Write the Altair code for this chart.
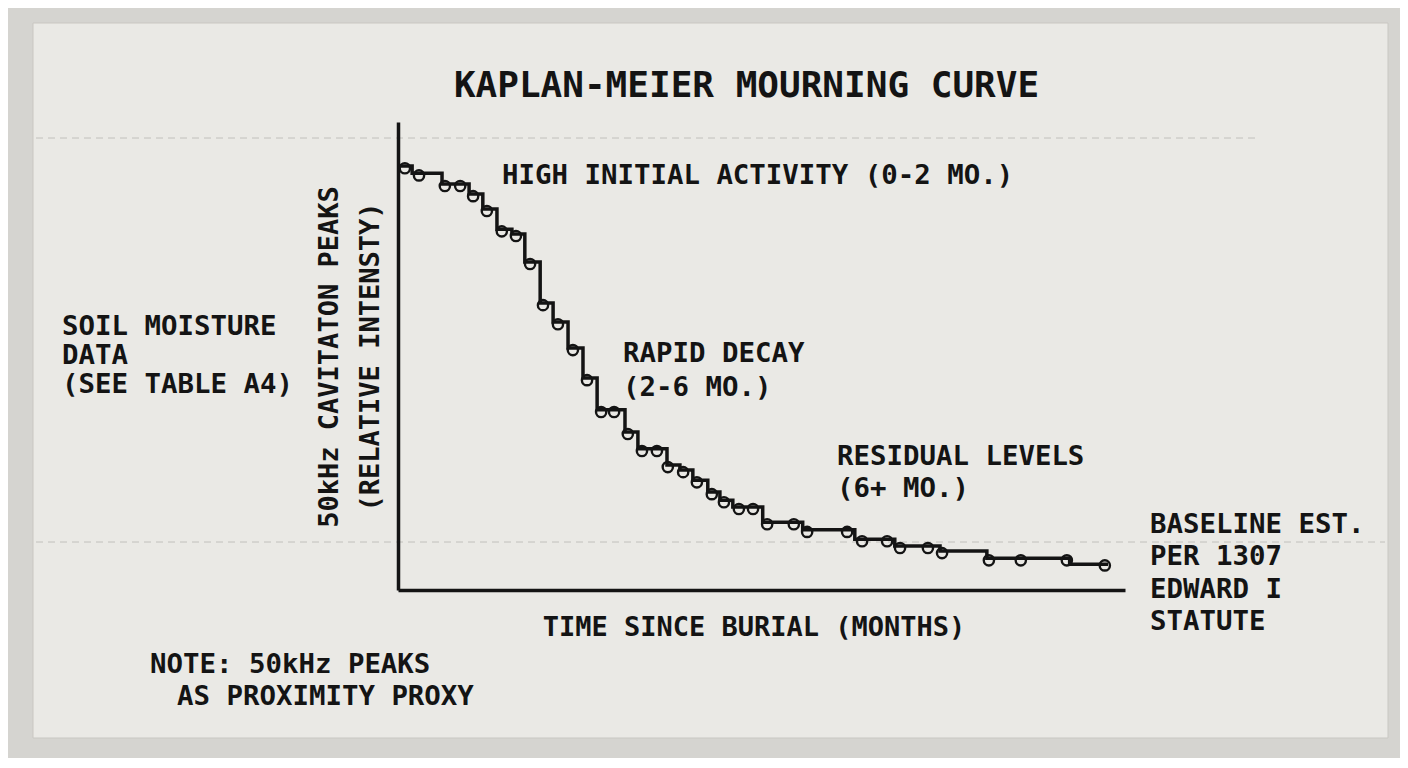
import altair as alt
import pandas as pd

# ---- data ----
step_months = [0, 0.35, 1.09, 1.76, 2.10, 2.45, 2.82, 3.14, 3.52, 3.84, 4.21, 4.58,
               4.93, 5.62, 5.94, 6.66, 6.98, 7.30, 7.67, 7.97, 8.29, 9.03, 10.02,
               11.31, 12.30, 13.42, 14.58, 16.63, 17.58]
step_intensity = [1.000, 0.983, 0.958, 0.934, 0.899, 0.851, 0.840, 0.774, 0.677,
                  0.632, 0.571, 0.500, 0.425, 0.373, 0.333, 0.295, 0.283, 0.259,
                  0.231, 0.212, 0.196, 0.160, 0.142, 0.120, 0.104, 0.092, 0.075,
                  0.061, 0.061]

censor_months = [0.17, 0.52, 1.16, 1.54, 1.86, 2.20, 2.57, 2.92, 3.27, 3.59, 3.96,
                 4.33, 4.68, 5.03, 5.35, 5.69, 6.04, 6.41, 6.68, 7.06, 7.40, 7.77,
                 8.07, 8.44, 8.79, 9.14, 9.80, 10.13, 11.12, 11.49, 12.11, 12.43,
                 13.12, 13.47, 14.63, 15.42, 16.56, 17.50]
censor_intensity = [0.995, 0.978, 0.953, 0.953, 0.929, 0.894, 0.846, 0.835, 0.769,
                    0.672, 0.627, 0.566, 0.495, 0.420, 0.420, 0.368, 0.328, 0.328,
                    0.290, 0.278, 0.254, 0.226, 0.207, 0.191, 0.191, 0.155, 0.155,
                    0.137, 0.137, 0.115, 0.115, 0.099, 0.099, 0.087, 0.070, 0.070,
                    0.070, 0.058]

title_text = "KAPLAN-MEIER MOURNING CURVE"
x_title = "TIME SINCE BURIAL (MONTHS)"
y_title = ["50kHz CAVITATON PEAKS", "(RELATIVE INTENSTY)"]
note_high = "HIGH INITIAL ACTIVITY (0-2 MO.)"
note_rapid = ["RAPID DECAY", "(2-6 MO.)"]
note_resid = ["RESIDUAL LEVELS", "(6+ MO.)"]
note_base = ["BASELINE EST.", "PER 1307", "EDWARD I", "STATUTE"]
note_soil = ["SOIL MOISTURE", "DATA", "(SEE TABLE A4)"]
note_foot1 = "NOTE: 50kHz PEAKS"
note_foot2 = "AS PROXIMITY PROXY"

FONT = "DejaVu Sans Mono"
INK = "#141414"
PAPER = "#eae9e5"
OUTER = "#d5d4d0"

steps = pd.DataFrame({"month": step_months, "intensity": step_intensity})
censors = pd.DataFrame({"month": censor_months, "intensity": censor_intensity})
one = pd.DataFrame({"k": [0]})

xs = alt.Scale(domain=[0, 18], nice=False, zero=False)
ys = alt.Scale(domain=[0, 1.104], nice=False)

x_axis = alt.Axis(title=x_title, ticks=False, labels=False, grid=False,
                  domainColor=INK, domainWidth=3.5, zindex=2,
                  titleFont=FONT, titleFontSize=27, titleFontWeight="bold",
                  titleColor=INK, titleX=355.5, titleY=45,
                  titleAlign="center", titleBaseline="alphabetic")
y_axis = alt.Axis(title=y_title, ticks=False, labels=False, grid=False,
                  domainColor=INK, domainWidth=3.5, zindex=2,
                  titleFont=FONT, titleFontSize=27, titleFontWeight="bold",
                  titleColor=INK, titleAngle=270, titleX=-61, titleY=234.5,
                  titleAlign="center", titleBaseline="alphabetic",
                  titleLineHeight=41)

paper = alt.Chart(one).mark_rect(color=PAPER, stroke="#c9c7c2", strokeWidth=1).encode(
    x=alt.value(-365), x2=alt.value(990), y=alt.value(-99), y2=alt.value(616))

fold1 = alt.Chart(one).mark_rule(color="#a9a7a2", strokeWidth=1, strokeDash=[7, 5],
                                 opacity=0.6).encode(
    x=alt.value(-362), x2=alt.value(862), y=alt.value(16))
fold2 = alt.Chart(one).mark_rule(color="#a9a7a2", strokeWidth=1, strokeDash=[7, 5],
                                 opacity=0.6).encode(
    x=alt.value(-362), x2=alt.value(987), y=alt.value(420))

line = alt.Chart(steps).mark_line(interpolate="step-after", color=INK,
                                  strokeWidth=3.5).encode(
    x=alt.X("month:Q", scale=xs, axis=x_axis),
    y=alt.Y("intensity:Q", scale=ys, axis=y_axis))

points = alt.Chart(censors).mark_point(shape="circle", filled=False, size=105,
                                       strokeWidth=2.4, color=INK, opacity=1).encode(
    x=alt.X("month:Q", scale=xs),
    y=alt.Y("intensity:Q", scale=ys))


def label(text, x, y, size=27.4, lh=32):
    return alt.Chart(one).mark_text(font=FONT, fontSize=size, fontWeight="bold",
                                    color=INK, align="left", baseline="alphabetic",
                                    lineHeight=lh).encode(
        x=alt.value(x), y=alt.value(y), text=alt.value(text))


title = alt.Chart(one).mark_text(font=FONT, fontSize=36, fontWeight="bold", color=INK,
                                 align="center", baseline="alphabetic").encode(
    x=alt.value(348.5), y=alt.value(-25), text=alt.value(title_text))

chart = alt.layer(
    paper, fold1, fold2, line, points, title,
    label(note_high, 104, 62),
    label(note_rapid, 225, 240, lh=34),
    label(note_resid, 439, 343, lh=32),
    label(note_base, 752, 411, lh=32.3),
    label(note_soil, -336, 213, size=27.4, lh=29),
    label(note_foot1, -248, 551),
    label(note_foot2, -221, 583),
).properties(
    width=727, height=468,
    background=OUTER,
    autosize=alt.AutoSizeParams(type="none"),
    padding={"left": 390, "top": 114, "right": 275, "bottom": 168},
).configure_view(stroke=None)

chart.save("out.html", embed_options={"renderer": "svg", "actions": False})
